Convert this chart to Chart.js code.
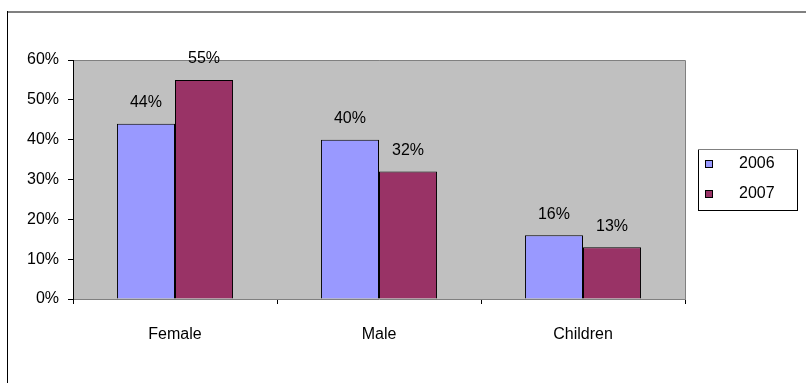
<!DOCTYPE html>
<html>
<head>
<meta charset="utf-8">
<script src="https://cdn.jsdelivr.net/npm/chart.js@4/dist/chart.umd.min.js"></script>
<style>
  html, body { margin: 0; padding: 0; background: #fff; }
  canvas { display: block; }
</style>
</head>
<body>
<canvas id="c" width="806" height="383"></canvas>
<script>
// Share of visitors by group, 2006 vs 2007
const categories = ['Female', 'Male', 'Children'];
const series2006 = [44, 40, 16];
const series2007 = [55, 32, 13];
const seriesNames = ['2006', '2007'];
const yTicks = [0, 10, 20, 30, 40, 50, 60];

const FONT = '"Liberation Sans", Arial, sans-serif';
const COLORS = ['#9999FF', '#993366'];

// Outer frame, grey plot background and plot border lines
const framePlugin = {
  id: 'frame',
  beforeDraw(chart) {
    const { ctx, chartArea: a } = chart;
    ctx.save();
    ctx.fillStyle = '#fff';
    ctx.fillRect(0, 0, chart.width, chart.height);
    // outer frame
    ctx.fillStyle = '#808080';
    ctx.fillRect(7, 11, chart.width - 7, 2);
    ctx.fillStyle = '#000';
    ctx.fillRect(7, 11, 1, chart.height - 11);
    // plot area
    ctx.fillStyle = '#C0C0C0';
    ctx.fillRect(a.left, a.top, a.right - a.left, a.bottom - a.top);
    ctx.strokeStyle = '#808080';
    ctx.lineWidth = 1;
    ctx.beginPath();
    ctx.moveTo(a.left, a.top + 0.5);
    ctx.lineTo(a.right + 0.5, a.top + 0.5);
    ctx.lineTo(a.right + 0.5, a.bottom);
    ctx.stroke();
    ctx.restore();
  }
};

// Value labels above each bar
const valueLabels = {
  id: 'valueLabels',
  afterDatasetsDraw(chart) {
    const { ctx } = chart;
    ctx.save();
    ctx.font = '16px ' + FONT;
    ctx.fillStyle = '#000';
    ctx.textAlign = 'center';
    ctx.textBaseline = 'middle';
    chart.data.datasets.forEach((ds, i) => {
      chart.getDatasetMeta(i).data.forEach((bar, j) => {
        ctx.fillText(ds.data[j] + '%', bar.x, bar.y - 21);
      });
    });
    ctx.restore();
  }
};

// Boxed legend on the right
const boxLegend = {
  id: 'boxLegend',
  afterDraw(chart) {
    const { ctx } = chart;
    const x = 698, y = 149, w = 99, h = 61;
    ctx.save();
    ctx.fillStyle = '#fff';
    ctx.fillRect(x, y, w, h);
    ctx.strokeStyle = '#000';
    ctx.lineWidth = 1;
    ctx.strokeRect(x + 0.5, y + 0.5, w, h);
    ctx.strokeStyle = '#808080';
    ctx.beginPath();
    ctx.moveTo(x, y + 0.5);
    ctx.lineTo(x + w + 1, y + 0.5);
    ctx.stroke();
    ctx.font = '16px ' + FONT;
    ctx.textBaseline = 'middle';
    chart.data.datasets.forEach((ds, i) => {
      const cy = 164 + i * 30;
      ctx.fillStyle = ds.backgroundColor;
      ctx.fillRect(705, cy - 4, 8, 8);
      ctx.strokeStyle = '#000';
      ctx.strokeRect(705.5, cy - 3.5, 7, 7);
      ctx.fillStyle = '#000';
      ctx.fillText(ds.label, 739, cy);
    });
    ctx.restore();
  }
};

new Chart(document.getElementById('c'), {
  type: 'bar',
  data: {
    labels: categories,
    datasets: [
      { label: seriesNames[0], data: series2006, backgroundColor: COLORS[0], borderColor: '#000', borderWidth: 1 },
      { label: seriesNames[1], data: series2007, backgroundColor: COLORS[1], borderColor: '#000', borderWidth: 1 }
    ]
  },
  options: {
    responsive: false,
    animation: false,
    devicePixelRatio: 1,
    layout: { padding: { top: 60, right: 121, left: 0, bottom: 0 } },
    datasets: { bar: { categoryPercentage: 0.569, barPercentage: 1.0 } },
    plugins: { legend: { display: false }, tooltip: { enabled: false } },
    scales: {
      x: {
        afterFit(s) { s.height = 84; },
        grid: { offset: true, drawOnChartArea: false, drawTicks: true, tickLength: 5, color: '#000' },
        border: { color: '#808080', width: 1 },
        ticks: { color: '#000', font: { family: FONT, size: 16 }, padding: 21 }
      },
      y: {
        min: 0, max: 60,
        afterFit(s) { s.width = 73; },
        afterBuildTicks(s) { s.ticks = yTicks.map(v => ({ value: v })); },
        grid: { drawOnChartArea: false, drawTicks: true, tickLength: 5, color: '#000' },
        border: { color: '#000', width: 1 },
        ticks: { color: '#000', font: { family: FONT, size: 16 }, padding: 9, callback: v => v + '%' }
      }
    }
  },
  plugins: [framePlugin, valueLabels, boxLegend]
});
</script>
</body>
</html>
